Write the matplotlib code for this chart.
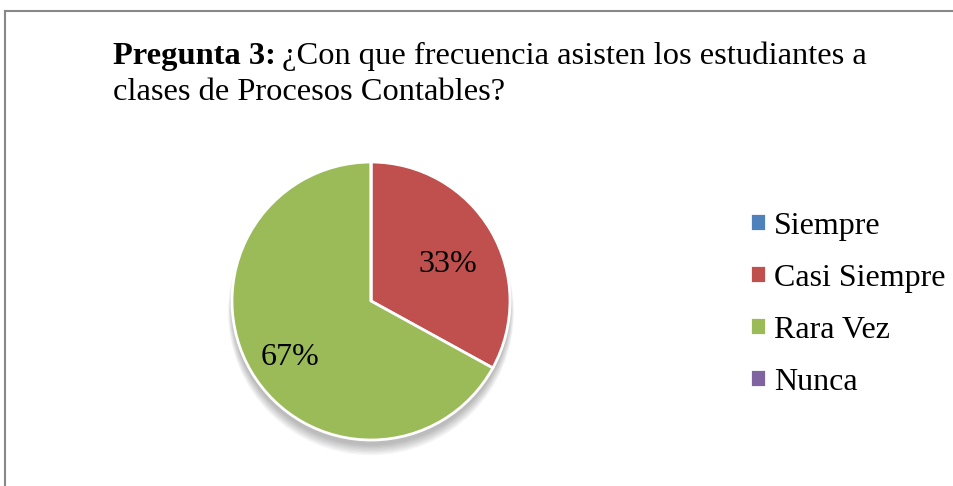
import matplotlib
matplotlib.use("Agg")
import matplotlib.pyplot as plt
from matplotlib.lines import Line2D
from matplotlib.patches import Circle

categorias = ['Siempre', 'Casi Siempre', 'Rara Vez', 'Nunca']
valores = [0, 33, 67, 0]
colores = ['#4F81BD', '#C0504D', '#9BBB59', '#8064A2']

plt.rcParams['font.family'] = ['Liberation Serif', 'DejaVu Serif']

W, H = 954, 486
fig = plt.figure(figsize=(W / 100, H / 100), dpi=100)

# marco del grafico
fig.add_artist(Line2D([5 / W, 5 / W], [0, 1 - 11 / H], color='#888888', lw=1.5))
fig.add_artist(Line2D([5 / W, 1], [1 - 11 / H, 1 - 11 / H], color='#888888', lw=1.5))

# titulo
t1 = fig.text(113 / W, 1 - 64 / H, 'Pregunta 3:', fontsize=23.4, fontweight='bold', va='baseline')
fig.canvas.draw()
bb = t1.get_window_extent()
fig.text((bb.x1 + 6) / W, 1 - 64 / H, '¿Con que frecuencia asisten los estudiantes a',
         fontsize=23.4, va='baseline')
fig.text(113 / W, 1 - 100 / H, 'clases de Procesos Contables?', fontsize=23.4, va='baseline')

# pastel
cx, cy, r = 371, 301, 139
ax = fig.add_axes([(cx - r) / W, (H - cy - r) / H, 2 * r / W, 2 * r / H])
ax.axis('off')

# sombra suave
for i in range(8):
    ax.add_patch(Circle((0, -0.04 - i * 0.006), 1.0 + i * 0.004, color='black',
                        alpha=0.035, lw=0, zorder=0, clip_on=False))

wedges, texts, autotexts = ax.pie(
    valores, colors=colores, startangle=90, counterclock=False, radius=1,
    autopct=lambda p: f'{p:.0f}%' if p > 0 else '', pctdistance=0.66,
    wedgeprops=dict(edgecolor='white', linewidth=2),
    textprops=dict(fontsize=23, color='black'))
for w in wedges:
    w.set_zorder(2)
for t in autotexts:
    t.set_zorder(3)
    x, y = t.get_position()
    t.set_position((x - 0.015, y - 0.07))
ax.set_xlim(-1, 1)
ax.set_ylim(-1, 1)
ax.set_aspect('equal')

fig.legend(wedges, categorias, loc='center left', bbox_to_anchor=(750 / W, 1 - 304 / H),
           frameon=False, fontsize=23, handlelength=0.5, handleheight=0.5,
           handletextpad=0.25, labelspacing=0.72, borderaxespad=0, borderpad=0)

fig.savefig('out.png', dpi=100)
